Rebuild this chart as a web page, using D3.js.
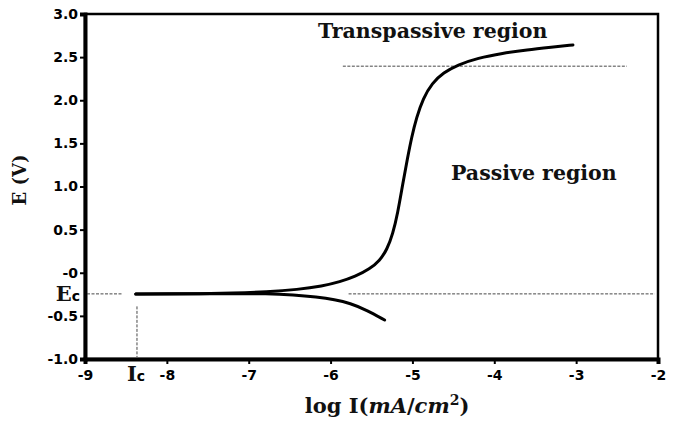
<!DOCTYPE html>
<html>
<head>
<meta charset="utf-8">
<script src="https://cdn.jsdelivr.net/npm/d3@7"></script>
<style>
  html, body { margin: 0; padding: 0; background: #fff; }
  svg { display: block; }
  .tick text { font-family: "DejaVu Sans", sans-serif; font-weight: bold; font-size: 14px; fill: #000; }
  .serif { font-family: "DejaVu Serif", serif; font-weight: bold; fill: #111; }
</style>
</head>
<body>
<svg id="chart" width="678" height="421"></svg>
<script>
// Polarization curve: log current density vs. potential
const xTicks = [-9, -8, -7, -6, -5, -4, -3, -2];
const xTickLabels = ["-9", "-8", "-7", "-6", "-5", "-4", "-3", "-2"];
const yTicks = [-1, -0.5, 0, 0.5, 1, 1.5, 2, 2.5, 3];
const yTickLabels = ["-1.0", "-0.5", "-0", "0.5", "1.0", "1.5", "2.0", "2.5", "3.0"];

// anodic branch (log I, E)
const anodicLogI = [-8.38, -8.0, -7.6, -7.2, -6.78, -6.4, -6.1, -5.885, -5.70, -5.52, -5.40, -5.31, -5.24, -5.18, -5.12, -5.06, -5.01, -4.95, -4.87, -4.76, -4.62, -4.45, -4.20, -3.90, -3.60, -3.30, -3.039];
const anodicE    = [-0.245, -0.245, -0.243, -0.236, -0.222, -0.195, -0.155, -0.105, -0.045, 0.045, 0.14, 0.27, 0.45, 0.69, 1.02, 1.33, 1.57, 1.80, 2.02, 2.20, 2.32, 2.41, 2.49, 2.545, 2.585, 2.615, 2.641];

// cathodic branch (log I, E)
const cathodicLogI = [-8.38, -8.0, -7.6, -7.2, -6.78, -6.45, -6.17, -5.95, -5.76, -5.56, -5.34];
const cathodicE    = [-0.245, -0.245, -0.245, -0.244, -0.24, -0.255, -0.28, -0.31, -0.353, -0.432, -0.548];

// corrosion point and transpassive threshold
const Ec = -0.245;
const Ic = -8.365;
const Etrans = 2.395;
const transRange = [-5.85, -2.38];

const svg = d3.select("#chart");
const x = d3.scaleLinear().domain([-9, -2]).range([85, 658]);
const y = d3.scaleLinear().domain([-1, 3]).range([359, 14]);

// frame
svg.append("rect")
  .attr("x", x(-9)).attr("y", y(3))
  .attr("width", x(-2) - x(-9)).attr("height", y(-1) - y(3))
  .attr("fill", "none").attr("stroke", "#000").attr("stroke-width", 2.5);

// axes
const xAxis = svg.append("g")
  .attr("transform", `translate(0,${y(-1)})`)
  .call(d3.axisBottom(x).tickValues(xTicks).tickSize(5).tickPadding(6)
    .tickFormat((d, i) => xTickLabels[i]));
const yAxis = svg.append("g")
  .attr("transform", `translate(${x(-9)},0)`)
  .call(d3.axisLeft(y).tickValues(yTicks).tickSize(5).tickPadding(2)
    .tickFormat((d, i) => yTickLabels[i]));
[xAxis, yAxis].forEach(g => {
  g.select(".domain").attr("stroke", "#000").attr("stroke-width", 4);
  g.selectAll(".tick line").attr("stroke", "#000").attr("stroke-width", 2);
});

// dashed reference lines
const dash = { "stroke": "#333", "stroke-width": 0.9, "stroke-dasharray": "3,1.5" };
function dashed(x1, y1, x2, y2) {
  const l = svg.append("line").attr("x1", x1).attr("y1", y1).attr("x2", x2).attr("y2", y2);
  Object.entries(dash).forEach(([k, v]) => l.attr(k, v));
}
dashed(x(-9) + 2, y(Ec), x(-8.55), y(Ec));
dashed(x(-5.78), y(Ec), x(-2.04), y(Ec));
dashed(x(Ic), y(-0.39), x(Ic), y(-1) - 2);
dashed(x(transRange[0]), y(Etrans), x(transRange[1]), y(Etrans));

// curves
const line = d3.line().x(d => x(d[0])).y(d => y(d[1])).curve(d3.curveBasis);
const anodic = anodicLogI.map((v, i) => [v, anodicE[i]]);
const cathodic = cathodicLogI.map((v, i) => [v, cathodicE[i]]);
[anodic, cathodic].forEach(data => {
  svg.append("path").datum(data).attr("d", line)
    .attr("fill", "none").attr("stroke", "#000").attr("stroke-width", 3)
    .attr("stroke-linecap", "round");
});

// region labels
svg.append("text").attr("class", "serif").attr("x", 318).attr("y", 38)
  .attr("font-size", 20.5).text("Transpassive region");
svg.append("text").attr("class", "serif").attr("x", 451).attr("y", 180)
  .attr("font-size", 20.5).text("Passive region");

// Ec label
const ecLabel = svg.append("text").attr("x", 80).attr("y", y(Ec) + 7).attr("text-anchor", "end");
ecLabel.append("tspan").attr("class", "serif").attr("font-size", 21).text("E");
ecLabel.append("tspan").attr("font-family", "DejaVu Sans").attr("font-weight", "bold").attr("font-size", 14).text("c");

// Ic label
const icLabel = svg.append("text").attr("x", x(Ic) - 10).attr("y", y(-1) + 22);
icLabel.append("tspan").attr("class", "serif").attr("font-size", 21).text("I");
icLabel.append("tspan").attr("font-family", "DejaVu Sans").attr("font-weight", "bold").attr("font-size", 14).text("c");

// axis titles
svg.append("text").attr("class", "serif").attr("font-size", 18)
  .attr("text-anchor", "middle")
  .attr("transform", `translate(26,180) rotate(-90)`)
  .text("E (V)");

const xt = svg.append("text").attr("x", 387).attr("y", 413).attr("text-anchor", "middle")
  .attr("font-family", "DejaVu Serif").attr("font-size", 21).attr("fill", "#111");
xt.append("tspan").attr("font-weight", "bold").text("log I");
xt.append("tspan").attr("font-weight", "bold").text("(");
xt.append("tspan").attr("font-style", "italic").attr("font-weight", "bold").text("mA");
xt.append("tspan").attr("font-weight", "bold").text("/");
xt.append("tspan").attr("font-style", "italic").attr("font-weight", "bold").text("cm");
xt.append("tspan").attr("font-weight", "bold").attr("font-size", 14).attr("dy", -8).text("2");
xt.append("tspan").attr("font-weight", "bold").attr("dy", 8).text(")");
</script>
</body>
</html>
